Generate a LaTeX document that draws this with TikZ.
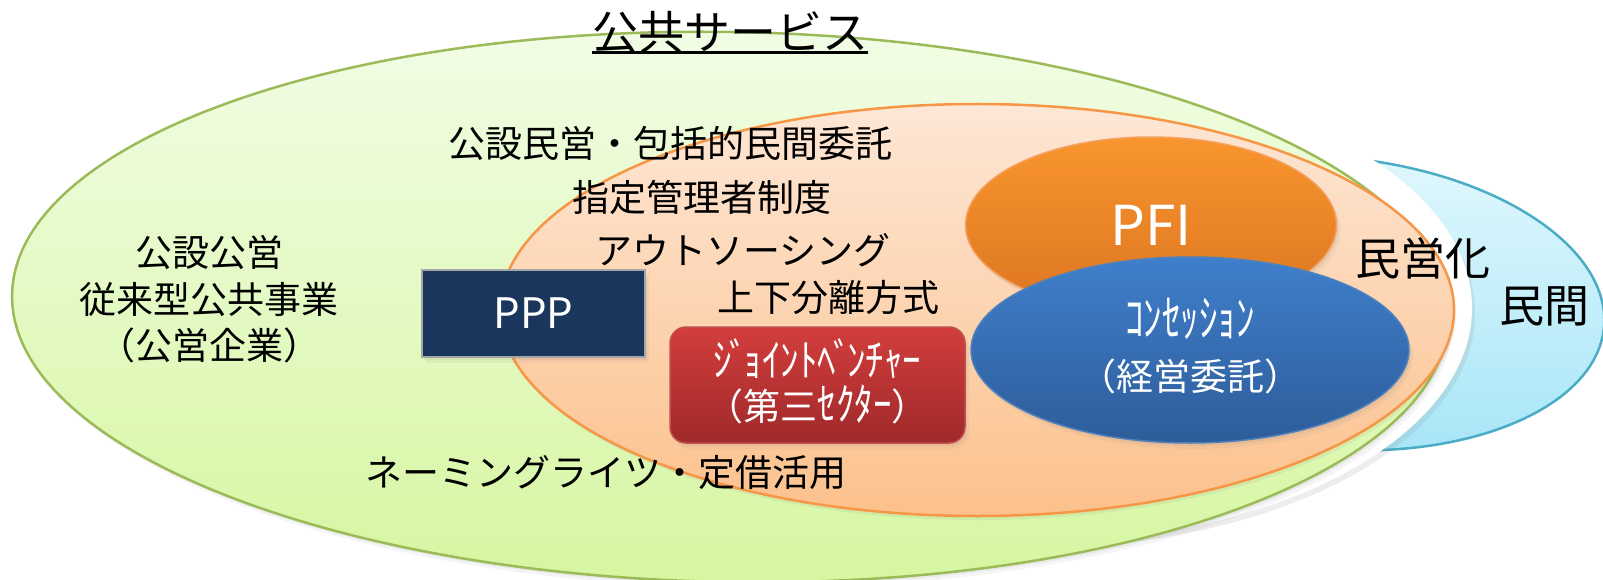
\documentclass[tikz,border=0pt]{standalone}
\usepackage{fontspec}
\setmainfont{Noto Sans CJK JP}
\usetikzlibrary{shapes.geometric,shadows}

\definecolor{grnB}{HTML}{9BBB59}
\definecolor{grnT}{HTML}{F1FDE6}
\definecolor{grnL}{HTML}{D6F6A0}
\definecolor{orB}{HTML}{F79646}
\definecolor{orT}{HTML}{FDE7D6}
\definecolor{orL}{HTML}{FCC18C}
\definecolor{cyB}{HTML}{4BACC6}
\definecolor{cyT}{HTML}{E2F8FD}
\definecolor{cyL}{HTML}{A6E5F7}
\definecolor{pfiT}{HTML}{F9952E}
\definecolor{pfiL}{HTML}{DC7522}
\definecolor{pfiB}{HTML}{F4A160}
\definecolor{conT}{HTML}{3F7FCB}
\definecolor{conL}{HTML}{2E5C9A}
\definecolor{conB}{HTML}{4F81BD}
\definecolor{pppF}{HTML}{1B365D}
\definecolor{pppB}{HTML}{A6A6A6}
\definecolor{jvT}{HTML}{D23E3C}
\definecolor{jvL}{HTML}{9F292A}
\definecolor{jvB}{HTML}{C0504D}

% half-width kana drawn taller, keeping a normal line height
\newcommand{\tallkana}[2][1.2]{\raisebox{0pt}[0.8em][0.05em]{\scalebox{1}[#1]{#2}}}

\tikzset{
  softshadow/.style={drop shadow={opacity=0.10,shadow xshift=2pt,shadow yshift=-3pt},
                     drop shadow={opacity=0.08,shadow xshift=4pt,shadow yshift=-6pt}},
  bigshape/.style={line width=2.5pt},
  txt/.style={inner sep=0pt,font=\fontsize{37}{44}\selectfont},
  bigtxt/.style={inner sep=0pt,font=\fontsize{45}{52}\selectfont},
  pppbox/.style={rectangle,fill=pppF,draw=pppB,line width=2.5pt,text=white,
                 font=\fontsize{42}{48}\selectfont,inner sep=0pt,softshadow},
  jvbox/.style={rectangle,rounded corners=16pt,top color=jvT,bottom color=jvL,draw=jvB,
                line width=1.5pt,text=white,align=center,
                font=\fontsize{37}{44}\selectfont,inner sep=0pt,softshadow},
  pfiell/.style={ellipse,top color=pfiT,bottom color=pfiL,draw=pfiB,line width=1.5pt,
                 text=white,font=\fontsize{55}{60}\selectfont,inner sep=0pt,softshadow},
  conell/.style={ellipse,top color=conT,bottom color=conL,draw=conB,line width=1.5pt,
                 text=white,align=center,font=\fontsize{37}{54}\selectfont,inner sep=0pt,softshadow},
}

\begin{document}
\begin{tikzpicture}[x=1pt,y=-1pt]
\useasboundingbox (0,0) rectangle (1603,580);
\clip (0,0) rectangle (1603,580);

% private sector (cyan)
\path[bigshape,top color=cyT,bottom color=cyL,draw=cyB,rotate around={-5:(1330,303)}]
  (1330,303) ellipse [x radius=275, y radius=146];

% privatisation (white)
\path[fill=white,drop shadow={opacity=0.14,shadow xshift=3pt,shadow yshift=-5pt}]
  (1030,308) ellipse [x radius=442, y radius=235];

% public service (green)
\path[bigshape,top color=grnT,bottom color=grnL,draw=grnB,softshadow,
      rotate around={-1:(730,307)}]
  (730,307) ellipse [x radius=718, y radius=275];

% PPP region (orange)
\path[bigshape,top color=orT,bottom color=orL,draw=orB,
      drop shadow={opacity=0.10,shadow xshift=2pt,shadow yshift=-4pt}]
  (977,310) ellipse [x radius=477, y radius=206];

% PFI and concession
\node[pfiell,minimum width=371pt,minimum height=176pt] (pfi) at (1151,225) {PFI};
\node[conell,minimum width=438pt,minimum height=186pt] (con) at (1190,350)
  {\tallkana[1.35]{ｺﾝｾｯｼｮﾝ}\\（経営委託）};

% boxes
\node[pppbox,minimum width=223pt,minimum height=87pt] (ppp) at (533.5,313.5) {PPP};
\node[jvbox,minimum width=295pt,minimum height=116pt] (jv) at (817.5,385)
  {\tallkana{ｼ\kern-.08emﾞ\kern-.12emｮｲﾝﾄﾍ\kern-.08emﾞ\kern-.12emﾝﾁｬｰ}\\（第三\tallkana{ｾｸﾀｰ}）};

% title
\node[inner sep=0pt,font=\fontsize{46}{52}\selectfont] (title) at (730,32) {公共サービス};
\draw[line width=3pt] ([yshift=-21pt]title.west) -- ([yshift=-21pt]title.east);

% labels
\node[txt] (l1) at (670,143) {公設民営・包括的民間委託};
\node[txt] (l2) at (702,197) {指定管理者制度};
\node[txt] (l3) at (743,250) {アウトソーシング};
\node[txt] (l4) at (828,297) {上下分離方式};
\node[txt] (l5) at (606,473) {ネーミングライツ・定借活用};
\node[txt] (p1) at (209,252) {公設公営};
\node[txt] (p2) at (209,300) {従来型公共事業};
\node[txt] (p3) at (209,345) {（公営企業）};
\node[bigtxt] (min) at (1423,258) {民営化};
\node[bigtxt] (pri) at (1544,306) {民間};
\end{tikzpicture}
\end{document}
